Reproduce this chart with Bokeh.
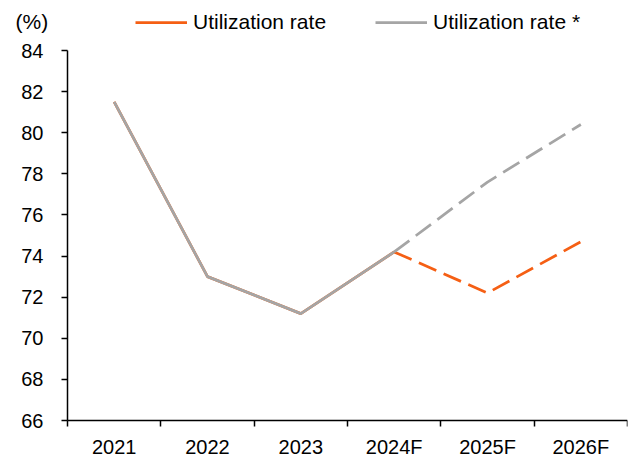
from bokeh.plotting import figure
from bokeh.models import FixedTicker, Range1d, Legend, LegendItem, Label
from bokeh.embed import file_html
from bokeh.resources import INLINE

years = ["2021", "2022", "2023", "2024F", "2025F", "2026F"]
util = [81.5, 73.0, 71.2, 74.2, 72.2, 74.7]
util_star = [81.5, 73.0, 71.2, 74.2, 77.6, 80.4]
y_ticks = [66, 68, 70, 72, 74, 76, 78, 80, 82, 84]
n_actual = 4  # solid through 2024F

ORANGE = "#F55F14"
GRAY = "#A5A5A5"
FONT = "Liberation Sans"
FS = "20px"
FS_LEG = "21px"

xs = [i + 0.5 for i in range(len(years))]

# layout (page px)
W, H = 628, 457
F_LEFT, F_RIGHT, F_TOP, F_BOTTOM = 12, 627, 2, 455
AXIS_X, Y84, Y66 = 67, 50, 420
px_x = (F_RIGHT - AXIS_X) / len(years)
px_y = (Y66 - Y84) / (84 - 66)
x_start = -(AXIS_X - F_LEFT) / px_x
y_top = 84 + (Y84 - F_TOP) / px_y
y_start = 66 - (F_BOTTOM - Y66) / px_y

p = figure(width=W, height=H, output_backend="svg", toolbar_location=None,
           x_range=Range1d(x_start, len(years)), y_range=Range1d(y_start, y_top),
           min_border_left=F_LEFT, min_border_top=F_TOP, min_border_right=W - F_RIGHT,
           min_border_bottom=H - F_BOTTOM)
p.outline_line_color = None
p.grid.visible = False

o_solid = p.line(xs[:n_actual], util[:n_actual], line_color=ORANGE, line_width=2.75)
p.line(xs[n_actual - 1:], util[n_actual - 1:], line_color=ORANGE, line_width=2.75, line_dash="19 8")
g_solid = p.line(xs[:n_actual], util_star[:n_actual], line_color=GRAY, line_width=2.75)
p.line(xs[n_actual - 1:], util_star[n_actual - 1:], line_color=GRAY, line_width=2.75, line_dash="19 8")

# x axis: labels at centers, ticks at category boundaries
xa = p.xaxis[0]
xa.fixed_location = 66
xa.bounds = (0, len(years))
xa.ticker = FixedTicker(ticks=xs, minor_ticks=list(range(len(years) + 1)))
xa.major_label_overrides = {x: y for x, y in zip(xs, years)}
xa.major_tick_out = 0
xa.major_tick_in = 0
xa.minor_tick_out = 6
xa.minor_tick_in = 0
xa.minor_tick_line_color = "black"
xa.minor_tick_line_width = 1.5
xa.axis_line_color = "black"
xa.axis_line_width = 1.5
xa.major_label_standoff = 9
xa.major_label_text_font = FONT
xa.major_label_text_font_size = FS
xa.major_label_text_color = "black"

ya = p.yaxis[0]
ya.fixed_location = 0
ya.bounds = (66, 84)
ya.ticker = FixedTicker(ticks=y_ticks)
ya.major_tick_out = 6
ya.major_tick_in = 0
ya.minor_tick_line_color = None
ya.major_tick_line_color = "black"
ya.major_tick_line_width = 1.5
ya.axis_line_color = "black"
ya.axis_line_width = 1.5
ya.major_label_standoff = 18
ya.major_label_text_font = FONT
ya.major_label_text_font_size = FS
ya.major_label_text_color = "black"

p.add_layout(Label(x=-52 / px_x, y=84 + 29 / px_y, text="(%)", text_font=FONT,
                   text_font_size=FS_LEG, text_baseline="middle", text_align="left",
                   text_color="black"))

legend_style = dict(orientation="horizontal", glyph_width=52, glyph_height=20, label_height=20,
                    label_standoff=6, padding=0, margin=0, border_line_color=None,
                    background_fill_alpha=0, label_text_font=FONT, label_text_font_size=FS_LEG,
                    label_text_color="black")
leg_y = (F_BOTTOM - F_TOP) - 32
leg1 = Legend(items=[LegendItem(label="Utilization rate", renderers=[o_solid])],
              location=(135 - F_LEFT, leg_y), **legend_style)
leg2 = Legend(items=[LegendItem(label="Utilization rate *", renderers=[g_solid])],
              location=(375 - F_LEFT, leg_y), **legend_style)
p.add_layout(leg1, "center")
p.add_layout(leg2, "center")

open("out.html", "w").write(file_html(p, INLINE))
